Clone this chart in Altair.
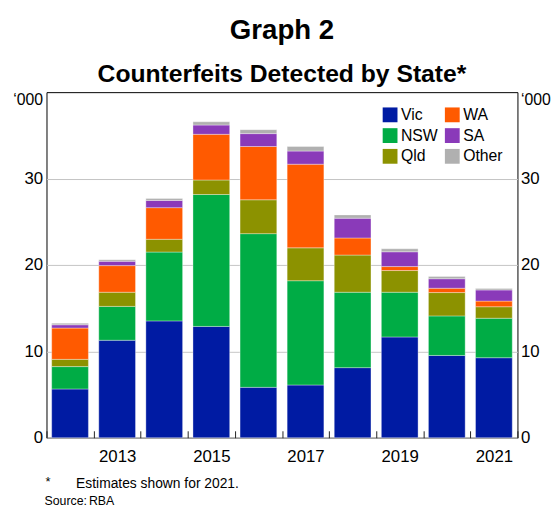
import altair as alt
import pandas as pd

# ---- data (thousands of counterfeits) ----
years = [2012, 2013, 2014, 2015, 2016, 2017, 2018, 2019, 2020, 2021]
states = ["Vic", "NSW", "Qld", "WA", "SA", "Other"]
vic = [5.64, 11.28, 13.52, 12.88, 5.83, 6.10, 8.11, 11.66, 9.52, 9.26]
nsw = [2.59, 3.92, 7.97, 15.27, 17.79, 12.07, 8.73, 5.18, 4.58, 4.57]
qld = [0.84, 1.64, 1.48, 1.68, 3.92, 3.81, 4.30, 2.51, 2.70, 1.33]
wa = [3.62, 3.08, 3.66, 5.29, 6.17, 9.68, 1.98, 0.46, 0.50, 0.65]
sa = [0.38, 0.50, 0.84, 1.07, 1.49, 1.52, 2.29, 1.71, 1.10, 1.29]
other = [0.19, 0.19, 0.23, 0.38, 0.46, 0.53, 0.38, 0.35, 0.27, 0.16]

state_colors = ["#001BA3", "#00AC45", "#8C9200", "#FF5A00", "#8A3AB9", "#B0B0B0"]

y_ticks = [0, 10, 20, 30]
unit_label = "\u2018000"
title_text = "Graph 2"
subtitle_text = "Counterfeits Detected by State*"
note_mark = "*"
note_text = "Estimates shown for 2021."
source_label = "Source:"
source_text = "RBA"

series = [vic, nsw, qld, wa, sa, other]
rows = []
for i, yr in enumerate(years):
    for k, (s, vals) in enumerate(zip(states, series)):
        rows.append({"year": str(yr), "state": s, "value": vals[i], "stack": k})
df = pd.DataFrame(rows)

FONT = "Liberation Sans"

x_enc = alt.X(
    "year:O",
    title=None,
    scale=alt.Scale(paddingInner=0, paddingOuter=0),
    axis=alt.Axis(
        labelAngle=0,
        tickBand="extent",
        tickSize=7,
        offset=-7,
        domain=False,
        grid=False,
        labelPadding=11,
        labelFontSize=17,
        labelColor="black",
        tickColor="#222222",
        labelExpr="(+datum.value) % 2 == 1 ? datum.value : ''",
    ),
)

y_scale = alt.Scale(domain=[0, 40], nice=False, zero=True)

left_axis = alt.Axis(
    orient="left",
    values=y_ticks,
    ticks=False,
    domain=False,
    grid=True,
    gridColor="#C4C4C4",
    gridWidth=1,
    labelPadding=4,
    labelFontSize=17,
    labelColor="black",
    title=unit_label,
    titleAngle=0,
    titleAlign="right",
    titleBaseline="top",
    titleX=-4,
    titleY=0,
    titleFontWeight="normal",
    titleFontSize=16,
    titleColor="black",
)

right_axis = alt.Axis(
    orient="right",
    values=y_ticks,
    ticks=False,
    domain=False,
    grid=False,
    labelPadding=3,
    labelFontSize=17,
    labelColor="black",
    title=unit_label,
    titleAngle=0,
    titleAlign="left",
    titleBaseline="top",
    titleX=3,
    titleY=0,
    titleFontWeight="normal",
    titleFontSize=16,
    titleColor="black",
)

bars = alt.Chart(df).mark_bar(
    width=alt.RelativeBandSize(0.78),
    stroke="white",
    strokeOpacity=0.35,
    strokeWidth=1,
).encode(
    x=x_enc,
    y=alt.Y("sum(value):Q", scale=y_scale, axis=left_axis, stack="zero"),
    color=alt.Color(
        "state:N",
        scale=alt.Scale(domain=states, range=state_colors),
        legend=alt.Legend(
            orient="none",
            legendX=340,
            legendY=15,
            columns=2,
            title=None,
            symbolType="square",
            symbolSize=225,
            symbolStrokeWidth=0,
            labelFontSize=16,
            labelColor="black",
            labelOffset=3,
            columnPadding=6,
            rowPadding=5,
            padding=0,
        ),
    ),
    order=alt.Order("stack:Q", sort="ascending"),
)

right = alt.Chart(df).mark_bar(opacity=0).encode(
    x=x_enc,
    y=alt.Y("sum(value):Q", scale=y_scale, axis=right_axis),
)


def note(txt, xpos, ypos, size):
    return alt.Chart(pd.DataFrame({"t": [txt]})).mark_text(
        align="left", baseline="middle", fontSize=size, font=FONT, color="black"
    ).encode(text="t:N", x=alt.value(xpos), y=alt.value(ypos))


chart = alt.layer(
    bars,
    right,
    note(note_mark, -1, 395, 13),
    note(note_text, 30, 397, 14),
    note(source_label, -2, 414, 12.5),
    note(source_text, 43, 414, 12.5),
).resolve_axis(y="independent").properties(
    width=477,
    height=350,
    padding={"left": 39, "top": 82, "right": 35, "bottom": 70},
    autosize=alt.AutoSizeParams(type="none"),
    title=alt.TitleParams(
        text=title_text,
        subtitle=subtitle_text,
        anchor="middle",
        frame="group",
        font=FONT,
        fontSize=28,
        fontWeight="bold",
        color="black",
        subtitleFont=FONT,
        subtitleFontSize=25,
        subtitleFontWeight="bold",
        subtitleColor="black",
        subtitlePadding=18,
        offset=5,
    ),
).configure(font=FONT).configure_view(
    stroke="black", strokeWidth=1
).configure_axis(labelFont=FONT, titleFont=FONT).configure_legend(labelFont=FONT)

chart.save("out.html", embed_options={"renderer": "svg", "actions": False})
